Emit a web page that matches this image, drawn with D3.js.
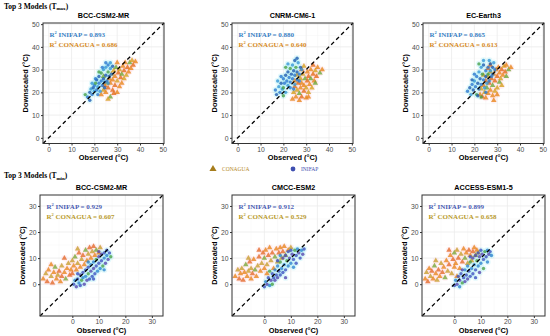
<!DOCTYPE html>
<html lang="en">
<head>
  <meta charset="UTF-8">
  <title>Top 3 models scatter</title>
  <style>
    body { margin: 0; background: #fff; }
    svg { display: block; }
  </style>
</head>
<body>
  <div id="container"></div>
  <script src="https://cdn.jsdelivr.net/npm/d3@7"></script>
  <script>
    // ---- data ----
    const tmaxModels = ['BCC-CSM2-MR', 'CNRM-CM6-1', 'EC-Earth3'];
    const tminModels = ['BCC-CSM2-MR', 'CMCC-ESM2', 'ACCESS-ESM1-5'];
    const tmaxR2Inifap = [0.893, 0.880, 0.865];
    const tmaxR2Conagua = [0.686, 0.640, 0.613];
    const tminR2Inifap = [0.929, 0.912, 0.899];
    const tminR2Conagua = [0.607, 0.529, 0.658];
    const tmaxTicks = [0, 10, 20, 30, 40, 50];
    const tminTicks = [0, 10, 20, 30];

    // Tmax, [observed, downscaled]
    const bccTmaxInifap = [[17,18],[18,20],[18.5,21.5],[19,19],[19.5,22],[20,20.5],[20,23],[20.5,24],[21,21],[21,25.5],[21.5,22.5],[22,24],[22,27],[22.5,20.5],[23,25],[23,28.5],[23.5,23],[24,26],[24,30],[24.5,24.5],[25,27.5],[25,31],[25.5,25],[26,29],[26,32],[26.5,27],[27,30.5],[27.5,28],[28,31.5],[19,24],[20.5,26],[22,29],[23.5,31],[24.5,22],[26,24],[21.5,19],[18,16.5],[27,33],[25,33],[16,19]];
    const bccTmaxConagua = [[23,19],[24,21],[24.5,23],[25,20],[25.5,24],[26,22],[26.5,26],[27,18],[27,24],[27.5,28],[28,21],[28,25.5],[28.5,29.5],[29,23],[29,27],[29.5,31],[30,20],[30,25],[30.5,28.5],[31,22.5],[31,30],[31.5,26.5],[32,24],[32,28],[32.5,31.5],[33,26],[33,29.5],[33.5,33],[34,27.5],[34.5,31],[35,29],[35.5,33],[36,30.5],[36.5,34],[37,32],[38,33.5],[26,17],[28.5,19.5],[30,33],[24,27]];
    const cnrmTmaxInifap = [[16.5,21],[17,19],[18,22.5],[18.5,20],[19,24],[19.5,21.5],[20,26],[20,22],[20.5,24],[21,27.5],[21,20],[21.5,25],[22,29],[22,23],[22.5,26.5],[23,30.5],[23,24.5],[23.5,28],[24,32],[24,26],[24.5,29.5],[25,23.5],[25,27.5],[25.5,31],[26,25.5],[26,29],[26.5,33],[27,28],[27.5,31],[28,30],[19,27],[21,31],[24.5,21.5],[26,35],[17.5,25],[23,22],[25,34],[22,32.5],[27,25],[20,18.5]];
    const cnrmTmaxConagua = [[24,17],[24.5,20],[25,22.5],[25.5,18],[26,21],[26.5,24],[27,16.5],[27,19.5],[27.5,22],[27.5,26],[28,18],[28,24],[28.5,28],[29,20.5],[29,23],[29.5,26],[30,17.5],[30,22],[30.5,25],[30.5,29],[31,20],[31,27],[31.5,23.5],[32,26],[32,30],[32.5,22],[33,28],[33.5,25],[34,29.5],[34.5,27],[35,31],[36,28.5],[37,30],[26,27.5],[28,30],[25,25],[29,31.5],[33,32],[31,18],[34,24]];
    const ecTmaxInifap = [[17,20.5],[18,22],[18.5,19],[19,23.5],[19.5,21],[20,25],[20.5,22.5],[21,19],[21,27],[21.5,24],[22,29],[22,21.5],[22.5,26],[23,31],[23,23.5],[23.5,28],[24,25.5],[24,32],[24.5,22],[25,29.5],[25,27],[25.5,24],[26,31],[26,28],[26.5,25],[27,32.5],[27,29.5],[27.5,27],[28,31],[28.5,33],[20,28],[22,32.5],[25,20],[19,25.5],[26.5,34],[28,28],[21.5,18.5],[24,34],[29,30],[23,18]];
    const ecTmaxConagua = [[22.5,19],[23,21.5],[23.5,18],[24,23],[24.5,20],[25,25],[25,17.5],[25.5,22],[26,19.5],[26,27],[26.5,24],[27,21],[27,29],[27.5,26],[28,18.5],[28,23],[28.5,28],[29,20.5],[29,25],[29.5,30],[30,22],[30,27],[30.5,31],[31,24.5],[31,28.5],[31.5,26],[32,30],[32.5,27.5],[33,31.5],[33.5,29],[34,32],[35,30],[36,31],[24,27.5],[26,30.5],[30,19],[32,23],[27,32],[28.5,16.5],[34,27]];

    // Tmin, [observed, downscaled]
    const bccTminInifap = [[0.5,0],[1,1.5],[1.5,-1],[2,2],[2.5,0.5],[3,3.5],[3,-0.5],[3.5,1.5],[4,4.5],[4,2.5],[4.5,0],[5,5.5],[5,3],[5.5,1.5],[6,6.5],[6,4],[6.5,2],[7,7.5],[7,5],[7.5,3],[8,8.5],[8,6],[8.5,4],[9,9.5],[9,7],[9.5,5],[10,10.5],[10,8],[10.5,6],[11,11.5],[11,9],[11.5,7],[12,12],[12,10],[12.5,8],[13,13],[13,11],[13.5,9.5],[14,12],[14.5,10.5],[2,4],[6,8.5],[10,12.5],[8,2],[12,5.5]];
    const bccTminConagua = [[-11,2],[-10,4],[-9.5,1],[-9,5.5],[-8,3],[-7.5,0.5],[-7,4.5],[-6.5,6.5],[-6,2],[-5.5,3.5],[-5,5],[-4.5,1],[-4,7],[-4,3],[-3,4.5],[-2.5,2],[-2,6],[-1.5,8],[-1,3.5],[-0.5,5.5],[0,9],[0,4],[0.5,7],[1,10.5],[1.5,5.5],[2,8],[2.5,12],[3,6.5],[3.5,9.5],[4,11],[4.5,7.5],[5,13],[5.5,9],[6,11.5],[6.5,14],[7,10],[7.5,12.5],[8,14.5],[8.5,11],[9,13],[10,12],[10.5,14],[-3,10],[-8,7.5],[2,13.5]];
    const cmccTminInifap = [[0,-1],[0.5,1],[1,0],[1.5,2.5],[2,-0.5],[2.5,1.5],[3,4],[3,0],[3.5,2.5],[4,5.5],[4,1.5],[4.5,3.5],[5,7],[5,2.5],[5.5,5],[6,8.5],[6,3.5],[6.5,6],[7,10],[7,4.5],[7.5,7.5],[8,11],[8,5.5],[8.5,9],[9,12.5],[9,7],[9.5,10],[10,13],[10,8],[10.5,11.5],[11,9.5],[11.5,13],[12,11],[12.5,13.5],[13,12],[13.5,10],[14,13],[14.5,11.5],[15,13.5],[2,5],[5,9],[11,6.5],[8,2.5],[12,8],[6,11]];
    const cmccTminConagua = [[-11,3],[-10,5.5],[-9.5,2],[-9,4],[-8.5,6],[-8,1.5],[-7.5,4.5],[-7,7.5],[-6.5,3],[-6,5],[-5.5,8.5],[-5,2],[-5,6],[-4.5,4],[-4,9.5],[-3.5,5.5],[-3,3],[-2.5,7],[-2,10.5],[-1.5,5],[-1,8],[-0.5,12],[0,6],[0,10],[0.5,13],[1,7.5],[1.5,11],[2,14],[2.5,9],[3,12],[3.5,6],[4,10.5],[4.5,13.5],[5,8.5],[5.5,12],[6,14],[6.5,10],[7,12.5],[7.5,14.5],[8,11],[9,13],[10,14],[-2,13],[1,4],[-6,10]];
    const accessTminInifap = [[0,-0.5],[0.5,1.5],[1,0],[1.5,3],[2,-1],[2,1.5],[2.5,4],[3,0.5],[3.5,2.5],[4,5.5],[4,1],[4.5,3.5],[5,7],[5,2],[5.5,5],[6,8.5],[6,3],[6.5,6],[7,10],[7,4],[7.5,7.5],[8,11],[8,5.5],[8.5,9],[9,12],[9,7],[9.5,10.5],[10,13],[10,8],[10.5,11.5],[11,9.5],[11.5,12.5],[12,10.5],[12.5,13],[13,11.5],[13.5,12.5],[14,11],[3,5.5],[6,10.5],[11,6],[8,2.5],[12.5,8.5],[9.5,4.5]];
    const accessTminConagua = [[-11,2],[-10.5,4.5],[-10,1],[-9.5,6],[-9,3],[-8.5,5],[-8,2],[-7.5,7],[-7,4],[-6.5,1.5],[-6,5.5],[-5.5,3],[-5,8],[-4.5,4.5],[-4,6.5],[-3.5,2.5],[-3,9],[-2.5,5],[-2,7.5],[-1.5,11],[-1,4],[-0.5,9.5],[0,6.5],[0,12],[0.5,8],[1,13],[1.5,10],[2,6],[2.5,11.5],[3,8.5],[3.5,13.5],[4,10],[4.5,12],[5,8],[5.5,13],[6,11],[6.5,9],[7,12.5],[7.5,14],[8,11],[8.5,13],[9,12],[-2,13],[1,3],[-7,9]];

    // ---- layout ----
    const W = 550, H = 336;
    const sans = "'Liberation Sans', Arial, sans-serif";
    const serif = "'Liberation Serif', 'Times New Roman', serif";

    const svg = d3.select('#container').append('svg')
      .attr('width', W).attr('height', H);

    const panels = [
      { title: tmaxModels[0], inifap: bccTmaxInifap, conagua: bccTmaxConagua, r2: [tmaxR2Inifap[0], tmaxR2Conagua[0]], left: 43, top: 23, row: 'max' },
      { title: tmaxModels[1], inifap: cnrmTmaxInifap, conagua: cnrmTmaxConagua, r2: [tmaxR2Inifap[1], tmaxR2Conagua[1]], left: 232, top: 23, row: 'max' },
      { title: tmaxModels[2], inifap: ecTmaxInifap, conagua: ecTmaxConagua, r2: [tmaxR2Inifap[2], tmaxR2Conagua[2]], left: 423, top: 23, row: 'max' },
      { title: tminModels[0], inifap: bccTminInifap, conagua: bccTminConagua, r2: [tminR2Inifap[0], tminR2Conagua[0]], left: 40, top: 195, row: 'min' },
      { title: tminModels[1], inifap: cmccTminInifap, conagua: cmccTminConagua, r2: [tminR2Inifap[1], tminR2Conagua[1]], left: 232, top: 195, row: 'min' },
      { title: tminModels[2], inifap: accessTminInifap, conagua: accessTminConagua, r2: [tminR2Inifap[2], tminR2Conagua[2]], left: 422, top: 195, row: 'min' }
    ];

    const rowStyle = {
      max: {
        domain: [-2.5, 50.5], ticks: tmaxTicks, w: 121, h: 120.5,
        txtInifap: '#3a7fc4', txtConagua: '#d68a1e',
        inifapCols: ['#2a78d0', '#1f5db0', '#3497d6', '#2a78d0', '#1f5db0', '#3497d6', '#2a78d0', '#46a04a'],
        conaguaCols: ['#e8861c', '#d6a01f', '#e46a1a', '#e8861c', '#d6a01f', '#e46a1a', '#e8861c', '#6ea83a'],
        haloI: '#79e4f0', haloC: '#ffb3bf'
      },
      min: {
        domain: [-12.2, 34.2], ticks: tminTicks, w: 123, h: 121,
        txtInifap: '#4b5db3', txtConagua: '#b99a2c',
        inifapCols: ['#3d52c0', '#2d86d0', '#5648b0', '#3d52c0', '#2d86d0', '#5648b0', '#3d52c0', '#4aa34a'],
        conaguaCols: ['#e8861f', '#c89f30', '#e36c2c', '#e8861f', '#c89f30', '#e36c2c', '#e8861f', '#7aa83a'],
        haloI: '#7fe6f2', haloC: '#ffb6c4'
      }
    };

    // row headings
    function heading(y, sub) {
      const t = svg.append('text')
        .attr('x', 4).attr('y', y)
        .style('font-family', serif).style('font-weight', 'bold').style('font-size', '7.5px')
        .text('Top 3 Models (T');
      t.append('tspan').attr('dy', 1.6).style('font-size', '5px').text(sub);
      t.append('tspan').attr('dy', -1.6).text(')');
    }
    heading(8.5, 'max');
    heading(178, 'min');

    panels.forEach(p => {
      const st = rowStyle[p.row];
      const x = d3.scaleLinear().domain(st.domain).range([0, st.w]);
      const y = d3.scaleLinear().domain(st.domain).range([st.h, 0]);
      const g = svg.append('g').attr('transform', `translate(${p.left},${p.top})`);

      // grid (major + minor)
      const minor = st.ticks.slice(0, -1).map(d => d + 5).concat([st.ticks[0] - 5, st.ticks[st.ticks.length - 1] + 5])
        .filter(d => d > st.domain[0] && d < st.domain[1]);
      g.selectAll('.gxm').data(minor).join('line')
        .attr('x1', d => x(d)).attr('x2', d => x(d)).attr('y1', 0).attr('y2', st.h)
        .attr('stroke', '#f4f4f4').attr('stroke-width', 0.5);
      g.selectAll('.gym').data(minor).join('line')
        .attr('y1', d => y(d)).attr('y2', d => y(d)).attr('x1', 0).attr('x2', st.w)
        .attr('stroke', '#f4f4f4').attr('stroke-width', 0.5);
      g.selectAll('.gx').data(st.ticks).join('line')
        .attr('x1', d => x(d)).attr('x2', d => x(d)).attr('y1', 0).attr('y2', st.h)
        .attr('stroke', '#ebebeb').attr('stroke-width', 0.8);
      g.selectAll('.gy').data(st.ticks).join('line')
        .attr('y1', d => y(d)).attr('y2', d => y(d)).attr('x1', 0).attr('x2', st.w)
        .attr('stroke', '#ebebeb').attr('stroke-width', 0.8);

      // halos
      g.selectAll('.hc').data(p.conagua).join('circle')
        .attr('cx', d => x(d[0])).attr('cy', d => y(d[1])).attr('r', 3.2)
        .attr('fill', st.haloC).attr('opacity', 0.2);
      g.selectAll('.hi').data(p.inifap).join('circle')
        .attr('cx', d => x(d[0])).attr('cy', d => y(d[1])).attr('r', 3.2)
        .attr('fill', st.haloI).attr('opacity', 0.2);

      // points
      const tri = d3.symbol().type(d3.symbolTriangle).size(13);
      g.selectAll('.pc').data(p.conagua).join('path')
        .attr('d', tri)
        .attr('transform', d => `translate(${x(d[0])},${y(d[1])})`)
        .attr('fill', (d, i) => st.conaguaCols[i % st.conaguaCols.length]).attr('opacity', 0.8);
      g.selectAll('.pi').data(p.inifap).join('circle')
        .attr('cx', d => x(d[0])).attr('cy', d => y(d[1])).attr('r', 1.7)
        .attr('fill', (d, i) => st.inifapCols[i % st.inifapCols.length]).attr('opacity', 0.8);

      // 1:1 line
      g.append('line')
        .attr('x1', x(st.domain[0])).attr('y1', y(st.domain[0]))
        .attr('x2', x(st.domain[1])).attr('y2', y(st.domain[1]))
        .attr('stroke', '#000').attr('stroke-width', 1.3).attr('stroke-dasharray', '4,3');

      // frame
      g.append('rect').attr('width', st.w).attr('height', st.h)
        .attr('fill', 'none').attr('stroke', '#333').attr('stroke-width', 1);

      // axes
      const xa = g.append('g').attr('transform', `translate(0,${st.h})`)
        .call(d3.axisBottom(x).tickValues(st.ticks).tickSize(2).tickPadding(1.5));
      const ya = g.append('g').call(d3.axisLeft(y).tickValues(st.ticks).tickSize(2).tickPadding(1.5));
      [xa, ya].forEach(a => {
        a.select('.domain').remove();
        a.selectAll('line').attr('stroke', '#333');
        a.selectAll('text').style('font-family', sans).style('font-size', '6.8px').attr('fill', '#4d4d4d');
      });

      // titles
      g.append('text').attr('x', st.w / 2).attr('y', -5.5).attr('text-anchor', 'middle')
        .style('font-family', sans).style('font-weight', 'bold').style('font-size', '7.2px')
        .text(p.title);
      g.append('text').attr('x', st.w / 2).attr('y', st.h + 16.5).attr('text-anchor', 'middle')
        .style('font-family', sans).style('font-weight', 'bold').style('font-size', '7.4px')
        .text('Observed (°C)');
      g.append('text').attr('transform', `translate(-15,${st.h / 2}) rotate(-90)`).attr('text-anchor', 'middle')
        .style('font-family', sans).style('font-weight', 'bold').style('font-size', '7.4px')
        .text('Downscaled (°C)');

      // R² labels
      const labels = [['INIFAP', p.r2[0], st.txtInifap, 13.5], ['CONAGUA', p.r2[1], st.txtConagua, 23.5]];
      labels.forEach(l => {
        const t = g.append('text').attr('x', 6.5).attr('y', l[3])
          .style('font-family', serif).style('font-weight', 'bold').style('font-size', '7px')
          .attr('fill', l[2]).text('R');
        t.append('tspan').attr('dy', -2.6).style('font-size', '4.5px').text('2');
        t.append('tspan').attr('dy', 2.6).text(` ${l[0]} = ${l[1].toFixed(3)}`);
      });
    });

    // legend
    const lg = svg.append('g');
    lg.append('path').attr('d', d3.symbol().type(d3.symbolTriangle).size(22))
      .attr('transform', 'translate(213,169)').attr('fill', '#a67d1c');
    lg.append('text').attr('x', 222).attr('y', 171).text('CONAGUA')
      .style('font-family', serif).style('font-size', '5.5px').attr('fill', '#b58a2a');
    lg.append('circle').attr('cx', 293).attr('cy', 169).attr('r', 2.4).attr('fill', '#3f4fb0');
    lg.append('text').attr('x', 301).attr('y', 171).text('INIFAP')
      .style('font-family', serif).style('font-size', '5.5px').attr('fill', '#3f4fb0');
  </script>
</body>
</html>
